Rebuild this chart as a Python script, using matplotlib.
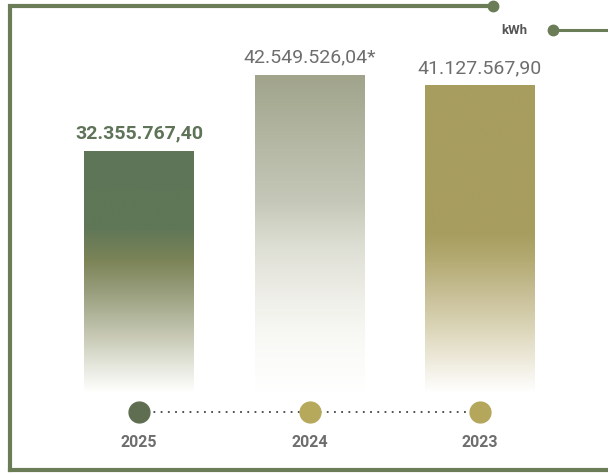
import matplotlib.pyplot as plt
import numpy as np
from matplotlib.colors import LinearSegmentedColormap
from matplotlib.lines import Line2D

years = ["2025", "2024", "2023"]
values = [32355767.40, 42549526.04, 41127567.90]
value_labels = ["32.355.767,40", "42.549.526,04*", "41.127.567,90"]
unit = "kWh"

# gradient stops for each bar, top (0) to bottom (1)
bar_stops = [
    [(0.0, "#5e7657"), (0.32, "#607757"), (0.455, "#7c8458"), (0.59, "#9aa07f"),
     (0.77, "#c8cab6"), (0.9, "#e8e9e0"), (1.0, "#ffffff")],
    [(0.0, "#a1a48b"), (0.4, "#c5c8b8"), (0.53, "#dcddd2"), (0.71, "#f0f0ea"),
     (0.84, "#f9f9f6"), (1.0, "#ffffff")],
    [(0.0, "#a89d5e"), (0.48, "#a79d5f"), (0.58, "#b5ac76"), (0.68, "#c8bf97"),
     (0.79, "#dbd5b8"), (0.89, "#ede9da"), (1.0, "#ffffff")],
]
dot_colors = ["#5f6e50", "#b6a95c", "#b4a65b"]
frame_color = "#6b7d57"
label_colors = ["#5e7358", "#6e6e6e", "#6e6e6e"]

plt.rcParams["font.family"] = ["Roboto", "DejaVu Sans"]

W, H = 608, 473
fig = plt.figure(figsize=(W / 100, H / 100), dpi=100)

# main bar area
ax = fig.add_axes([53.75 / W, 80 / H, 511.5 / W, 333 / H])
ax.set_xlim(-0.5, 2.5)
ax.set_ylim(0, 44.53e6)
ax.axis("off")

x = np.arange(len(years))
bw = 0.645
bars = ax.bar(x, values, width=bw, color="none", edgecolor="none")

grad = np.linspace(0, 1, 256).reshape(-1, 1)
for i, (b, v) in enumerate(zip(bars, values)):
    cmap = LinearSegmentedColormap.from_list(f"g{i}", bar_stops[i])
    im = ax.imshow(grad, cmap=cmap, aspect="auto", interpolation="bicubic",
                   extent=[x[i] - bw / 2, x[i] + bw / 2, 0, v], zorder=2)
    im.set_clip_path(b)
    ax.text(x[i], v + 1.1e6, value_labels[i], ha="center", va="bottom",
            fontsize=14, color=label_colors[i],
            fontweight="bold" if i == 0 else "normal")

# overlay in pixel space for the frame, timeline and unit
ov = fig.add_axes([0, 0, 1, 1])
ov.set_xlim(0, W)
ov.set_ylim(H, 0)
ov.axis("off")
ov.patch.set_alpha(0)

lw = 3
ov.add_line(Line2D([10, 10, 493], [470, 6, 6], color=frame_color, lw=lw,
                   solid_joinstyle="miter"))
ov.add_line(Line2D([10, W], [470, 470], color=frame_color, lw=lw))
ov.plot([493], [6], "o", color=frame_color, ms=7.5)
ov.add_line(Line2D([553, W], [30, 30], color=frame_color, lw=2.2))
ov.plot([553], [30], "o", color=frame_color, ms=7.5)
ov.text(514, 31, unit, ha="center", va="center", fontsize=9.5,
        fontweight="bold", color="#555555")

# timeline under the bars, positioned from the bar axis
to_px = ax.transData + ov.transData.inverted()
dot_x = [to_px.transform((xi, 0))[0] for xi in x]
ov.plot([dot_x[0], dot_x[-1]], [412, 412], linestyle=(0, (1, 3)),
        color="#444444", lw=1.3, zorder=3)
for dx, c, yr in zip(dot_x, dot_colors, years):
    ov.plot([dx], [412], "o", color=c, ms=15, zorder=4)
    ov.text(dx, 442, yr, ha="center", va="center", fontsize=11.5,
            fontweight="bold", color="#6e6e6e")

fig.savefig("out.png", dpi=100)
